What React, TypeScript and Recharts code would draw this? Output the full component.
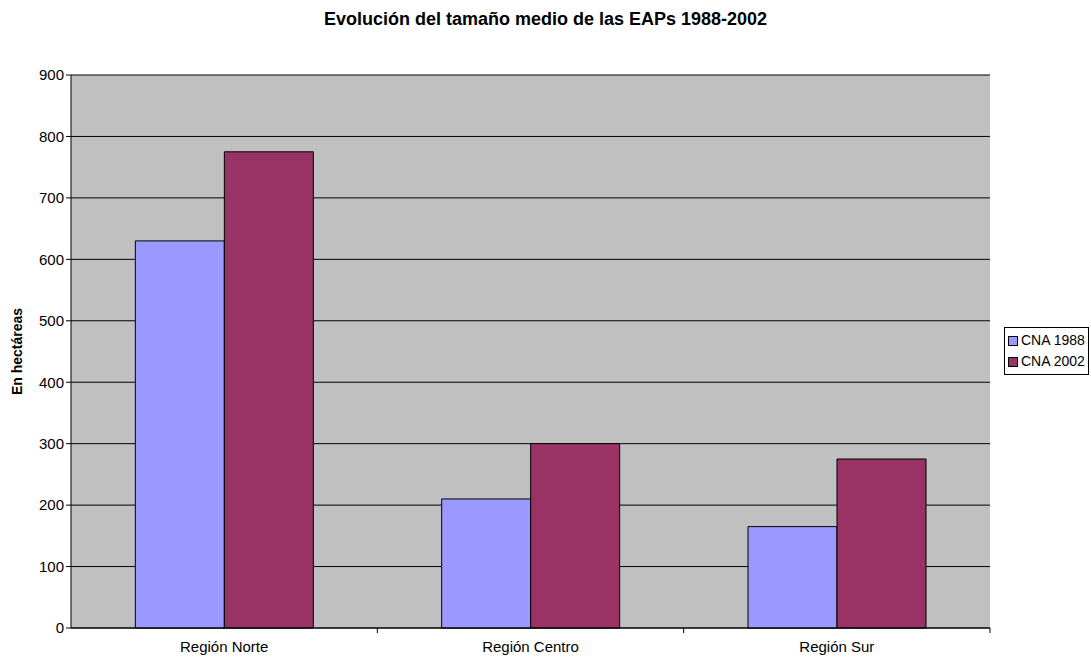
import React from 'react';
import {
    BarChart, Bar, XAxis, YAxis, CartesianGrid, Label
} from 'recharts';

const REGIONS = ['Región Norte', 'Región Centro', 'Región Sur'];
const CNA_1988 = [630, 210, 165];
const CNA_2002 = [775, 300, 275];
const Y_TICKS = [0, 100, 200, 300, 400, 500, 600, 700, 800, 900];

const SERIES = [
    { key: 'cna1988', name: 'CNA 1988', color: '#9999FF' },
    { key: 'cna2002', name: 'CNA 2002', color: '#993366' },
];

const data = REGIONS.map((name, i) => ({ name, cna1988: CNA_1988[i], cna2002: CNA_2002[i] }));

const W = 1091;
const H = 657;
const MARGIN = { top: 75, right: 101, bottom: 0, left: 31 };
const Y_AXIS_W = 40;
const X_AXIS_H = 29;
const FONT = '"Liberation Sans", Arial, sans-serif';

// category label at centre, tick mark at the right edge of each band (Excel style)
const CategoryTick = (props: any) => {
    const { x, y, payload } = props;
    const band = (W - MARGIN.left - MARGIN.right - Y_AXIS_W) / REGIONS.length;
    const edge = x + band / 2;
    return (
        <g>
            <line x1={edge} y1={y - 8} x2={edge} y2={y - 3} stroke="#000" />
            <text x={x} y={y + 16} textAnchor="middle" fontSize={15} fill="#000" fontFamily={FONT}>
                {payload.value}
            </text>
        </g>
    );
};

const LegendBox = () => (
    <div style={{
        position: 'absolute', left: 1004, top: 327,
        border: '1px solid #000', background: '#fff', padding: '2px 3px',
        fontFamily: FONT, fontSize: 14, lineHeight: '21px', whiteSpace: 'nowrap',
    }}>
        {SERIES.map(s => (
            <div key={s.key} style={{ display: 'flex', alignItems: 'center' }}>
                <span style={{
                    display: 'inline-block', width: 8, height: 8, background: s.color,
                    border: '1px solid #000', marginRight: 3,
                }} />
                {s.name}
            </div>
        ))}
    </div>
);

export default function App() {
    return (
        <div style={{ position: 'absolute', left: 0, top: 0, width: W, height: H, overflow: 'hidden', background: '#fff' }}>
            <div style={{
                position: 'absolute', top: 9, width: W, textAlign: 'center',
                fontFamily: FONT, fontWeight: 'bold', fontSize: 18,
            }}>
                Evolución del tamaño medio de las EAPs 1988-2002
            </div>
            <BarChart width={W} height={H} data={data} margin={MARGIN} barGap={0} barCategoryGap="21%">
                <CartesianGrid vertical={false} fill="#C0C0C0" fillOpacity={1} stroke="#000" strokeOpacity={1} />
                <XAxis
                    dataKey="name"
                    height={X_AXIS_H}
                    axisLine={{ stroke: '#000' }}
                    tickLine={false}
                    tick={<CategoryTick />}
                    interval={0}
                />
                <YAxis
                    width={Y_AXIS_W}
                    domain={[0, 900]}
                    ticks={Y_TICKS}
                    interval={0}
                    axisLine={{ stroke: '#000' }}
                    tickLine={{ stroke: '#000' }}
                    tickSize={5}
                    tick={{ fill: '#000', fontSize: 15, fontFamily: FONT }}
                >
                    <Label
                        value="En hectáreas"
                        angle={-90}
                        position="insideLeft"
                        offset={-14}
                        style={{ textAnchor: 'middle', fontWeight: 'bold', fontSize: 14, fill: '#000', fontFamily: FONT }}
                    />
                </YAxis>
                {SERIES.map(s => (
                    <Bar key={s.key} dataKey={s.key} name={s.name} fill={s.color} stroke="#000" strokeWidth={1} isAnimationActive={false} />
                ))}
            </BarChart>
            <LegendBox />
        </div>
    );
}
